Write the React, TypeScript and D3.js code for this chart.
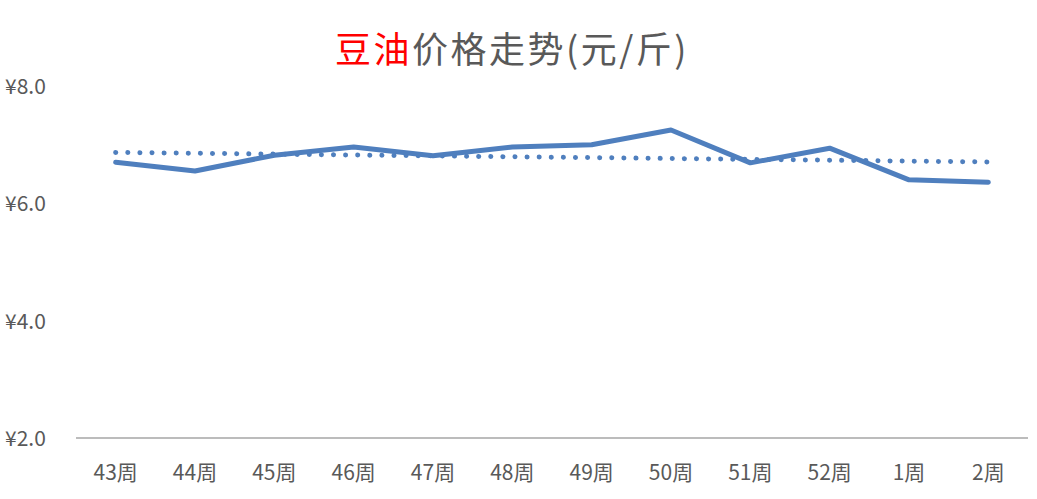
import React from "react";
import * as d3 from "d3";

const categories = ["43周", "44周", "45周", "46周", "47周", "48周", "49周", "50周", "51周", "52周", "1周", "2周"];
const prices = [6.70, 6.55, 6.82, 6.96, 6.81, 6.96, 7.00, 7.25, 6.69, 6.94, 6.40, 6.36];
const yTicks = [2, 4, 6, 8];

const W = 1037;
const H = 499;
const FONT = "'Noto Sans CJK SC', 'Noto Sans', sans-serif";

export default function App() {
  const x = d3.scaleBand<string>().domain(categories).range([76, 1028]);
  const y = d3.scaleLinear().domain([2, 8]).range([438, 86]);
  const cx = (c: string) => (x(c) as number) + x.bandwidth() / 2;

  const line = d3
    .line<number>()
    .x((_, i) => cx(categories[i]))
    .y((d) => y(d));

  // linear trendline (least squares)
  const idx = prices.map((_, i) => i);
  const mx = d3.mean(idx) as number;
  const my = d3.mean(prices) as number;
  const sxy = d3.sum(idx.map((i) => (i - mx) * (prices[i] - my)));
  const sxx = d3.sum(idx.map((i) => (i - mx) * (i - mx)));
  const slope = sxy / sxx;
  const intercept = my - slope * mx;
  const trend = idx.map((i) => intercept + slope * i);

  return (
    <svg
      width={W}
      height={H}
      style={{ position: "absolute", left: 0, top: 0, display: "block", background: "#fff" }}
    >
      <text x={512} y={63} textAnchor="middle" fontFamily={FONT} fontSize={36} letterSpacing={2.5} fill="#595959">
        <tspan fill="#ff0000">豆油</tspan>
        <tspan>价格走势(元/斤)</tspan>
      </text>

      {yTicks.map((t) => (
        <text key={t} x={5} y={y(t) + 8} fontFamily={FONT} fontSize={21} fill="#595959">
          {"¥" + t.toFixed(1)}
        </text>
      ))}

      <line x1={76} x2={1028} y1={y(2)} y2={y(2)} stroke="#a6a6a6" strokeWidth={1.5} />

      {categories.map((c) => (
        <text key={c} x={cx(c)} y={480} textAnchor="middle" fontFamily={FONT} fontSize={21} fill="#595959">
          {c}
        </text>
      ))}

      <path
        d={line(trend) as string}
        fill="none"
        stroke="#4f7fbe"
        strokeWidth={5}
        strokeLinecap="round"
        strokeDasharray="0.1 12"
      />
      <path
        d={line(prices) as string}
        fill="none"
        stroke="#4f7fbe"
        strokeWidth={5}
        strokeLinecap="round"
        strokeLinejoin="round"
      />
    </svg>
  );
}
